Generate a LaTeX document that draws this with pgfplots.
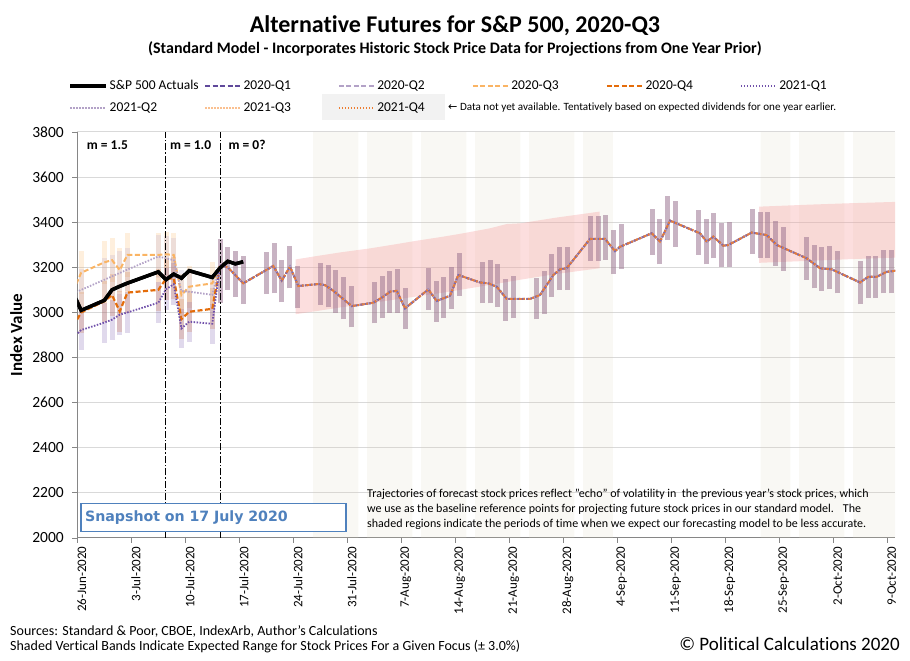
\documentclass[border=0pt]{standalone}
\usepackage{fontspec}
\setmainfont{Carlito}[Ligatures={TeX,NoCommon}]
\newfontfamily\dejavu{DejaVu Sans}
\usepackage{pgfplots}
\usepackage{pgfplotstable}
\pgfplotsset{compat=1.18}

\definecolor{cqa}{RGB}{96,73,155}
\definecolor{cqb}{RGB}{179,162,199}
\definecolor{cqc}{RGB}{250,180,100}
\definecolor{cqd}{RGB}{228,108,10}
\definecolor{cqe}{RGB}{112,80,170}
\definecolor{cqf}{RGB}{179,162,199}
\definecolor{cqg}{RGB}{250,192,144}
\definecolor{cqh}{RGB}{237,125,49}
\definecolor{mauve}{RGB}{150,110,140}
\definecolor{pinkc}{RGB}{245,160,160}
\definecolor{beige}{RGB}{220,210,185}
\definecolor{gridc}{RGB}{217,217,217}
\definecolor{axisc}{RGB}{134,134,134}
\definecolor{snapc}{RGB}{79,129,189}

\pgfplotstableread{
x v
-0.5 3083.76
0.5 3009.05
3.5 3053.24
4.5 3100.29
5.5 3115.86
6.5 3130.01
10.5 3179.72
11.5 3145.32
12.5 3169.94
13.5 3152.05
14.5 3185.04
17.5 3155.22
18.5 3197.52
19.5 3226.56
20.5 3215.57
21.5 3224.73
}\tActual

\pgfplotstableread{
x v
-0.5 3096
0.5 3176
3.5 3222
4.5 3232
5.5 3188
6.5 3255
10.5 3255
11.5 3258
12.5 3255
13.5 3077
14.5 3114
17.5 3129
18.5 3210
}\tQc

\pgfplotstableread{
x v
-0.5 2940
0.5 3000
3.5 3050
4.5 3077
5.5 3005
6.5 3088
10.5 3100
11.5 3149
12.5 3152
13.5 2970
14.5 3003
17.5 3016
18.5 3210
}\tQd

\pgfplotstableread{
x v
-0.5 2890
0.5 2922
3.5 2955
4.5 2968
5.5 2990
6.5 3000
10.5 3043
11.5 3103
12.5 3125
13.5 2929
14.5 2959
17.5 2950
18.5 3210
}\tQe

\pgfplotstableread{
x v
-0.5 3085
0.5 3100
3.5 3145
4.5 3160
5.5 3175
6.5 3190
10.5 3248
11.5 3240
12.5 3232
13.5 3095
14.5 3092
17.5 3078
18.5 3210
}\tQf

\pgfplotstableread{
x v
18.5 3210
19.5 3200
20.5 3165
21.5 3129
25.41 3206
26.5 3141
27.57 3203
28.65 3117
31.24 3126
32.11 3121
33.19 3096
35.57 3028
38.37 3043
39.67 3070
40.54 3092
41.41 3096
42.48 3018
45.5 3102
46.59 3051
48.31 3074
49.39 3166
52.2 3133
53.28 3129
54.37 3114
55.67 3060
58.69 3060
59.98 3077
61.71 3166
62.58 3191
63.44 3196
66.46 3326
68.41 3326
69.7 3272
70.35 3291
74.46 3351
75.54 3314
76.83 3407
80.72 3351
81.59 3314
82.45 3336
83.74 3296
84.39 3299
87.42 3354
89.37 3343
90.67 3299
94.55 3240
96.28 3196
97.8 3191
101.46 3133
102.54 3158
103.63 3158
104.92 3180
106.1 3185
}\tProj

\pgfplotstableread{
x lo hi
18.5 3040 3324
19.5 3099 3291
20.5 3070 3274
21.5 3037 3250
24.5 3082 3269
25.5 3085 3306
26.5 3045 3232
27.5 3107 3296
28.5 3018 3207
31.5 3033 3218
32.5 3023 3210
33.5 2999 3188
34.5 2969 3158
35.5 2934 3117
38.5 2952 3136
39.5 2974 3161
40.5 2999 3185
41.5 2999 3191
42.5 2925 3107
45.5 3011 3196
46.5 2959 3141
47.5 2974 3158
48.5 3014 3203
49.5 3073 3262
52.5 3040 3225
53.5 3040 3232
54.5 3025 3215
55.5 2963 3147
56.5 2974 3161
59.5 2969 3151
60.5 2993 3185
61.5 3067 3259
62.5 3099 3289
63.5 3099 3289
66.5 3228 3427
67.5 3228 3427
68.5 3232 3432
69.5 3169 3365
70.5 3191 3391
74.5 3255 3457
75.5 3213 3413
76.5 3321 3516
77.5 3291 3494
80.5 3255 3454
81.5 3213 3413
82.5 3240 3439
83.5 3200 3398
84.5 3200 3400
87.5 3259 3457
88.5 3243 3444
89.5 3243 3444
90.5 3206 3405
91.5 3184 3377
94.5 3144 3333
95.5 3107 3299
96.5 3096 3289
97.5 3102 3294
98.5 3085 3274
101.5 3036 3228
102.5 3063 3251
103.5 3063 3250
104.5 3085 3277
105.5 3085 3277
}\tBars

\pgfplotstableread{
x top
31.5 3800
32.5 3800
33.5 3800
34.5 3800
35.5 3800
38.5 3800
39.5 3800
40.5 3800
41.5 3800
42.5 3800
45.5 3800
46.5 3800
47.5 3800
48.5 3800
49.5 3800
52.5 3800
53.5 3800
54.5 3800
55.5 3800
56.5 3800
59.5 3800
60.5 3800
61.5 3800
62.5 3800
63.5 3800
66.5 3800
67.5 3800
68.5 3800
89.5 3800
90.5 3800
91.5 3800
94.5 3800
95.5 3800
96.5 3800
97.5 3800
98.5 3800
101.5 3800
102.5 3800
103.5 3800
104.5 3800
105.5 3800
}\tBeige

\begin{document}
\begin{tikzpicture}[x=1pt,y=1pt]
\useasboundingbox (0,0) rectangle (910,661);
\fill[black!5] (322,541) rectangle (445,567);
\begin{axis}[
  at={(77.3pt,123pt)}, anchor=south west,
  scale only axis, width=817.7pt, height=406pt,
  xmin=0, xmax=106, ymin=2000, ymax=3800,
  clip mode=individual,
  axis x line*=bottom, axis y line*=left,
  axis line style={-, draw=axisc, line width=1pt},
  tick align=outside, major tick length=5pt,
  tick style={draw=axisc, line width=0.8pt},
  xtick={0,7,...,105},
  xticklabels={26-Jun-2020,3-Jul-2020,10-Jul-2020,17-Jul-2020,24-Jul-2020,31-Jul-2020,7-Aug-2020,14-Aug-2020,21-Aug-2020,28-Aug-2020,4-Sep-2020,11-Sep-2020,18-Sep-2020,25-Sep-2020,2-Oct-2020,9-Oct-2020},
  xticklabel style={font=\fontsize{13}{15}\selectfont, xshift=4.5pt, rotate=90, anchor=east},
  ytick={2000,2200,...,3800},
  yticklabel style={font=\fontsize{15.5}{17}\selectfont, xshift=-5pt},
  /pgf/number format/.cd, 1000 sep={}, assume math mode=true, /pgfplots/.cd,
  ymajorgrids, grid style={draw=gridc, line width=1pt},
  ylabel={Index Value},
  ylabel style={font=\bfseries\fontsize{17}{19}\selectfont, at={(axis description cs:-0.0746,0.5)}, anchor=center},
  legend columns=6,
  legend cell align=left,
  legend style={at={(axis description cs:-0.01076,1.132)}, anchor=north west,
    draw=none, fill=none, inner sep=0pt, row sep=7pt,
    font=\fontsize{13.5}{15}\selectfont,
    nodes={inner sep=1.5pt, text height=9pt, text depth=3pt}},
  legend image code/.code={\draw[#1] (0pt,0pt) -- (36pt,0pt);},
]
% beige bands
\addplot[forget plot, ybar, bar width=1.85, bar shift=0pt, fill=beige, fill opacity=0.16, draw=none] table[x=x,y=top] {\tBeige};
% pink bands
\addplot[forget plot, fill=pinkc, fill opacity=0.35, draw=none] coordinates {
 (28.3,3235) (31.03,3250) (34.05,3266) (37.94,3284) (41.4,3303) (44.0,3318) (47.45,3336) (50.04,3351) (53.5,3373) (55.66,3392) (57.4,3395) (62,3420) (67.7,3447)
 (67.7,3196) (62,3170) (57.4,3145) (53.5,3122) (47.45,3088) (41.4,3058) (34.05,3022) (28.3,2992)} -- cycle;
\addplot[forget plot, fill=pinkc, fill opacity=0.35, draw=none] coordinates {
 (88.4,3469) (95,3478) (100,3484) (107,3491) (107,3244) (100,3236) (95,3229) (88.4,3220)} -- cycle;
% early range bars (+/- 3%)
\addplot[forget plot, draw=none, mark=none, restrict x to domain=0:18, error bars/.cd, y dir=both, y explicit, error mark=none, error bar style={draw=cqc, line width=5pt, opacity=0.22}] table[x=x, y=v, y error expr=0.03*\thisrow{v}] {\tQc};
\addplot[forget plot, draw=none, mark=none, restrict x to domain=0:18, error bars/.cd, y dir=both, y explicit, error mark=none, error bar style={draw=cqd, line width=5pt, opacity=0.22}] table[x=x, y=v, y error expr=0.03*\thisrow{v}] {\tQd};
\addplot[forget plot, draw=none, mark=none, restrict x to domain=0:18, error bars/.cd, y dir=both, y explicit, error mark=none, error bar style={draw=cqe, line width=5pt, opacity=0.22}] table[x=x, y=v, y error expr=0.03*\thisrow{v}] {\tQe};
\addplot[forget plot, draw=none, mark=none, restrict x to domain=0:18, error bars/.cd, y dir=both, y explicit, error mark=none, error bar style={draw=cqf, line width=5pt, opacity=0.22}] table[x=x, y=v, y error expr=0.03*\thisrow{v}] {\tQf};
% projection range bars
\addplot[forget plot, draw=none, mark=none, error bars/.cd, y dir=plus, y explicit, error mark=none, error bar style={draw=mauve, line width=5pt, opacity=0.52}] table[x=x, y=lo, y error expr=\thisrow{hi}-\thisrow{lo}] {\tBars};
% dash-dot separators
\addplot[forget plot, black, line width=0.9pt, dash pattern=on 7pt off 2pt on 1.5pt off 2pt] coordinates {(11.4,2000) (11.4,3800)};
\addplot[forget plot, black, line width=0.9pt, dash pattern=on 7pt off 2pt on 1.5pt off 2pt] coordinates {(18.5,2000) (18.5,3800)};
% legend series
\addplot[black, line width=3.5pt] table[x=x,y=v] {\tActual};
\addlegendentry{\makebox[93pt][l]{S\&P 500 Actuals}}
\addplot[cqa, line width=1.8pt, dash pattern=on 5pt off 2.5pt] table[x=x,y=v] {\tProj};
\addlegendentry{\makebox[93pt][l]{2020-Q1}}
\addplot[cqb, line width=1.8pt, dash pattern=on 5pt off 2.5pt] table[x=x,y=v] {\tProj};
\addlegendentry{\makebox[93pt][l]{2020-Q2}}
\addplot[cqc, line width=2pt, dash pattern=on 5pt off 2.5pt] table[x=x,y=v] {\tQc};
\addlegendentry{\makebox[93pt][l]{2020-Q3}}
\addplot[cqd, line width=2.2pt, dash pattern=on 5pt off 2.5pt] table[x=x,y=v] {\tQd};
\addlegendentry{\makebox[93pt][l]{2020-Q4}}
\addplot[cqe, line width=1.8pt, dash pattern=on 1.5pt off 1.5pt] table[x=x,y=v] {\tQe};
\addlegendentry{\makebox[93pt][l]{2021-Q1}}
\addplot[cqf, line width=1.8pt, dash pattern=on 1.5pt off 1.5pt] table[x=x,y=v] {\tQf};
\addlegendentry{\makebox[93pt][l]{2021-Q2}}
\addplot[cqg, line width=1.8pt, dash pattern=on 1.5pt off 1.5pt] table[x=x,y=v] {\tProj};
\addlegendentry{\makebox[93pt][l]{2021-Q3}}
\addplot[cqh, line width=1.8pt, dash pattern=on 1.5pt off 1.5pt] table[x=x,y=v] {\tProj};
\addlegendentry{\makebox[93pt][l]{2021-Q4}}
% converged projection (mixed look)
\addplot[forget plot, draw={rgb,255:red,125;green,105;blue,175}, line width=1.9pt, dash pattern=on 3pt off 1.5pt] table[x=x,y=v] {\tProj};
\addplot[forget plot, cqh, line width=1.9pt, dash pattern=on 1.5pt off 3pt, dash phase=3pt] table[x=x,y=v] {\tProj};
% actual on top
\addplot[forget plot, black, line width=3.5pt] table[x=x,y=v] {\tActual};
% annotations
\node[anchor=west, inner sep=0pt, font=\bfseries\fontsize{13.5}{15}\selectfont] at (axis cs:1.22,3742) {m = 1.5};
\node[anchor=west, inner sep=0pt, font=\bfseries\fontsize{13.5}{15}\selectfont] at (axis cs:12.0,3742) {m = 1.0};
\node[anchor=west, inner sep=0pt, font=\bfseries\fontsize{13.5}{15}\selectfont] at (axis cs:19.6,3742) {m = 0?};
\node[draw=snapc, fill=white, line width=1.3pt, text=snapc, font=\dejavu\bfseries\fontsize{14.2}{16}\selectfont, minimum height=28pt, text width=257pt, inner xsep=4pt, align=left] at (axis cs:17.66,2090.5) {Snapshot on 17 July 2020};
\node[anchor=north west, inner sep=0pt, align=left, font=\fontsize{12}{15}\selectfont] at (axis cs:37.56,2216) {Trajectories of forecast stock prices reflect "echo" of volatility in \ the previous year's stock prices, which\\we use as the baseline reference points for projecting future stock prices in our standard model. \ \ The\\shaded regions indicate the periods of time when we expect our forecasting model to be less accurate.};
\end{axis}
\node[font=\bfseries\fontsize{24}{28}\selectfont] at (455,635.5) {Alternative Futures for S\&P 500, 2020-Q3};
\node[font=\bfseries\fontsize{16}{18}\selectfont] at (455,612) {(Standard Model - Incorporates Historic Stock Price Data for Projections from One Year Prior)};
\node[anchor=base west, inner sep=0pt, font=\fontsize{11.1}{12}\selectfont] at (448,550.5) {{\dejavu ←} Data not yet available. Tentatively based on expected dividends for one year earlier.};
\node[anchor=base west, inner sep=0pt, font=\fontsize{14}{16}\selectfont] at (10,25) {Sources: Standard \& Poor, CBOE, IndexArb, Author's Calculations};
\node[anchor=base west, inner sep=0pt, font=\fontsize{14}{16}\selectfont] at (10,10) {Shaded Vertical Bands Indicate Expected Range for Stock Prices For a Given Focus (± 3.0\%)};
\node[anchor=base east, inner sep=0pt, font=\fontsize{19}{21}\selectfont] at (900,10) {© Political Calculations 2020};
\end{tikzpicture}
\end{document}
